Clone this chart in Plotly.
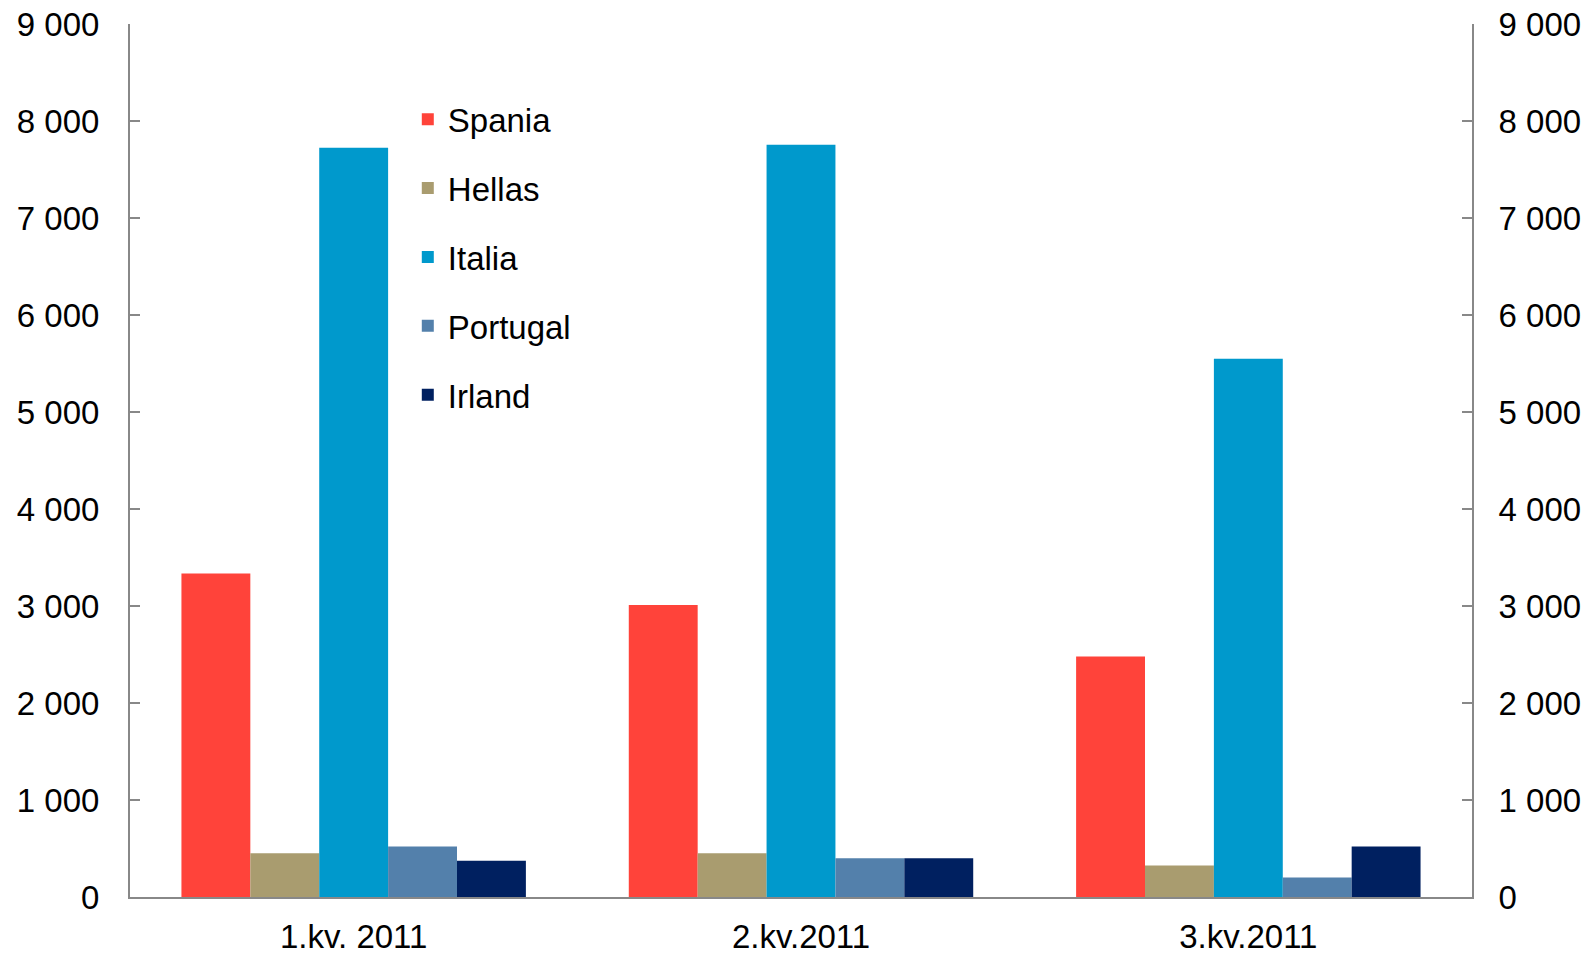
import plotly.graph_objects as go

quarters = ["1.kv. 2011", "2.kv.2011", "3.kv.2011"]
spania = [3335, 3010, 2480]
hellas = [450, 450, 325]
italia = [7725, 7755, 5550]
portugal = [520, 400, 200]
irland = [375, 400, 520]

series = [
    ("Spania", spania, "#FF433A"),
    ("Hellas", hellas, "#A99C6F"),
    ("Italia", italia, "#0099CC"),
    ("Portugal", portugal, "#5380AB"),
    ("Irland", irland, "#002060"),
]

fig = go.Figure()
for i, (name, vals, col) in enumerate(series):
    fig.add_trace(go.Bar(x=quarters, y=vals, name=name, marker=dict(color=col, line=dict(width=0)),
                         legendgroup=f"g{i}"))

# invisible trace to anchor the right-hand axis
fig.add_trace(go.Scatter(x=quarters, y=spania, yaxis="y2", mode="markers",
                         marker=dict(opacity=0), showlegend=False, hoverinfo="skip"))

axis_font = dict(family="Liberation Sans, Arial, sans-serif", size=33, color="#000000")

fig.update_layout(
    width=1589, height=954,
    paper_bgcolor="white", plot_bgcolor="white",
    margin=dict(l=130, r=117, t=24, b=57, pad=0),
    separators=", ",
    barmode="group", bargap=0.23, bargroupgap=0,
    font=axis_font,
    showlegend=True,
    legend=dict(x=0.207, y=0.923, xanchor="left", yanchor="top",
                font=dict(family="Liberation Sans, Arial, sans-serif", size=33, color="#000000"),
                tracegroupgap=23, bgcolor="rgba(0,0,0,0)", borderwidth=0),
    xaxis=dict(showline=True, linecolor="#888888", linewidth=2, ticks="",
               showgrid=False, tickfont=axis_font, zeroline=False, automargin=False,
               ticklabelstandoff=9),
    yaxis=dict(range=[0, 9000], tickvals=list(range(0, 9001, 1000)), tickformat=",d",
               showline=True, linecolor="#888888", linewidth=2, ticks="inside",
               ticklen=10, tickcolor="#888888", tickwidth=2, showgrid=False, zeroline=False,
               tickfont=axis_font, ticklabelstandoff=22, automargin=False,
               ticklabeloverflow="allow"),
    yaxis2=dict(range=[0, 9000], tickvals=list(range(0, 9001, 1000)), tickformat=",d",
                overlaying="y", side="right", showline=True, linecolor="#888888", linewidth=2,
                ticks="inside", ticklen=10, tickcolor="#888888", tickwidth=2, showgrid=False,
                zeroline=False, tickfont=axis_font, ticklabelstandoff=18, automargin=False,
                ticklabeloverflow="allow"),
)

fig.write_html("out.html", config={"displayModeBar": False},
               post_script="document.body.style.margin='0';document.body.style.overflow='hidden';")
